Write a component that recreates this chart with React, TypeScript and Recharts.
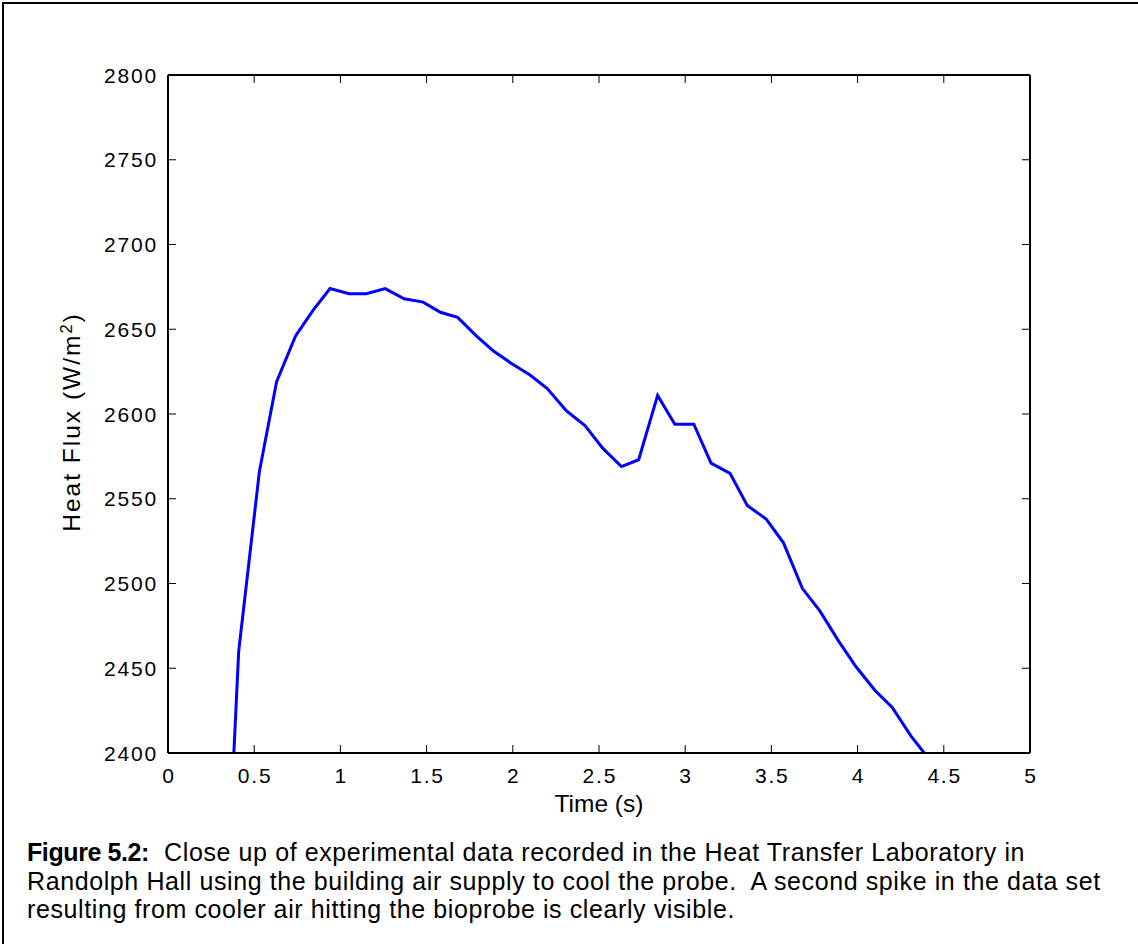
import React from 'react';
import { Line, LineChart, XAxis, YAxis } from 'recharts';

// time (s) and heat flux (W/m^2)
const times = [
  0.31, 0.41, 0.53, 0.63, 0.74, 0.84, 0.94, 1.05, 1.15, 1.26, 1.37, 1.48, 1.58,
  1.68, 1.79, 1.89, 1.99, 2.1, 2.2, 2.31, 2.42, 2.52, 2.63, 2.73, 2.84, 2.94,
  3.05, 3.15, 3.26, 3.36, 3.47, 3.57, 3.68, 3.78, 3.89, 3.99, 4.1, 4.2, 4.31,
  4.41,
];
const heatFlux = [
  2245, 2460, 2566, 2619, 2646, 2661, 2674, 2671, 2671, 2674, 2668, 2666, 2660,
  2657, 2646, 2637, 2630, 2623, 2615, 2602, 2593, 2580, 2569, 2573, 2611, 2594,
  2594, 2571, 2565, 2546, 2538, 2524, 2497, 2484, 2466, 2451, 2437, 2427, 2410,
  2397,
];
const xTicks = [0, 0.5, 1, 1.5, 2, 2.5, 3, 3.5, 4, 4.5, 5];
const yTicks = [2400, 2450, 2500, 2550, 2600, 2650, 2700, 2750, 2800];

const captionLines = [
  'Close up of experimental data recorded in the Heat Transfer Laboratory in',
  'Randolph Hall using the building air supply to cool the probe.  A second spike in the data set',
  'resulting from cooler air hitting the bioprobe is clearly visible.',
];

const data = times.map((t, i) => ({ t, q: heatFlux[i] }));

const FONT = '"Liberation Sans", Arial, Helvetica, sans-serif';
const TICK_LEN = 8;
const LABEL_SIZE = 21;
const LABEL_SPACING = 1.8;
const axisLine = { stroke: '#000', strokeWidth: 2 };

// MATLAB style: tick marks point into the plot box
function LeftTick({ x, y, payload }: any) {
  return (
    <g>
      <line x1={x} x2={x + TICK_LEN} y1={y} y2={y} stroke="#000" />
      <text
        x={x - 10}
        y={y + 7.5}
        textAnchor="end"
        fontSize={LABEL_SIZE}
        fontFamily={FONT}
        letterSpacing={LABEL_SPACING}
        fill="#000"
      >
        {payload.value}
      </text>
    </g>
  );
}

function BottomTick({ x, y, payload }: any) {
  return (
    <g>
      <line x1={x} x2={x} y1={y} y2={y - TICK_LEN} stroke="#000" />
      <text
        x={x + LABEL_SPACING / 2}
        y={y + 30}
        textAnchor="middle"
        fontSize={LABEL_SIZE}
        fontFamily={FONT}
        letterSpacing={LABEL_SPACING}
        fill="#000"
      >
        {payload.value}
      </text>
    </g>
  );
}

function TopTick({ x, y }: any) {
  return <line x1={x} x2={x} y1={y} y2={y + TICK_LEN} stroke="#000" />;
}

function RightTick({ x, y }: any) {
  return <line x1={x} x2={x - TICK_LEN} y1={y} y2={y} stroke="#000" />;
}

export default function App() {
  return (
    <div
      style={{
        position: 'absolute',
        left: 0,
        top: 0,
        width: 1138,
        height: 944,
        background: '#fff',
        overflow: 'hidden',
        fontFamily: FONT,
      }}
    >
      <div
        style={{
          position: 'absolute',
          left: 2,
          top: 2,
          width: 1300,
          height: 1100,
          border: '2px solid #000',
        }}
      />
      <div style={{ position: 'absolute', left: 0, top: 0 }}>
        <LineChart
          width={1138}
          height={830}
          data={data}
          margin={{ top: 65, right: 98, left: 108, bottom: 47 }}
        >
          <XAxis
            dataKey="t"
            type="number"
            domain={[0, 5]}
            ticks={xTicks}
            interval={0}
            allowDataOverflow
            height={30}
            tick={<BottomTick />}
            tickSize={0}
            tickMargin={0}
            tickLine={false}
            axisLine={axisLine}
            label={{
              content: () => (
                <text
                  x={599}
                  y={811.5}
                  textAnchor="middle"
                  fontSize={24.5}
                  fontFamily={FONT}
                  fill="#000"
                >
                  Time (s)
                </text>
              ),
            }}
          />
          <XAxis
            xAxisId="top"
            orientation="top"
            dataKey="t"
            type="number"
            domain={[0, 5]}
            ticks={xTicks}
            interval={0}
            allowDataOverflow
            height={10}
            tick={<TopTick />}
            tickSize={0}
            tickMargin={0}
            tickLine={false}
            axisLine={axisLine}
          />
          <YAxis
            type="number"
            domain={[2400, 2800]}
            ticks={yTicks}
            interval={0}
            allowDataOverflow
            width={60}
            tick={<LeftTick />}
            tickSize={0}
            tickMargin={0}
            tickLine={false}
            axisLine={axisLine}
            label={{
              content: () => (
                <text
                  transform="translate(80, 422) rotate(-90)"
                  textAnchor="middle"
                  fontSize={24.5}
                  fontFamily={FONT}
                  letterSpacing={2}
                  fill="#000"
                >
                  Heat Flux (W/m
                  <tspan fontSize={16.5} dy={-8}>
                    2
                  </tspan>
                  <tspan dy={8}>)</tspan>
                </text>
              ),
            }}
          />
          <YAxis
            yAxisId="right"
            orientation="right"
            type="number"
            domain={[2400, 2800]}
            ticks={yTicks}
            interval={0}
            allowDataOverflow
            width={10}
            tick={<RightTick />}
            tickSize={0}
            tickMargin={0}
            tickLine={false}
            axisLine={axisLine}
          />
          <Line
            type="linear"
            dataKey="q"
            stroke="#0000ff"
            strokeWidth={3}
            dot={false}
            activeDot={false}
            isAnimationActive={false}
          />
        </LineChart>
      </div>
      <div
        style={{
          position: 'absolute',
          left: 27,
          top: 838,
          fontSize: 25,
          lineHeight: '28.5px',
          letterSpacing: 0.6,
          color: '#000',
          whiteSpace: 'pre',
        }}
      >
        <div>
          <b style={{ letterSpacing: -0.4 }}>Figure 5.2:</b>
          {'  ' + captionLines[0]}
        </div>
        <div>{captionLines[1]}</div>
        <div>{captionLines[2]}</div>
      </div>
    </div>
  );
}
